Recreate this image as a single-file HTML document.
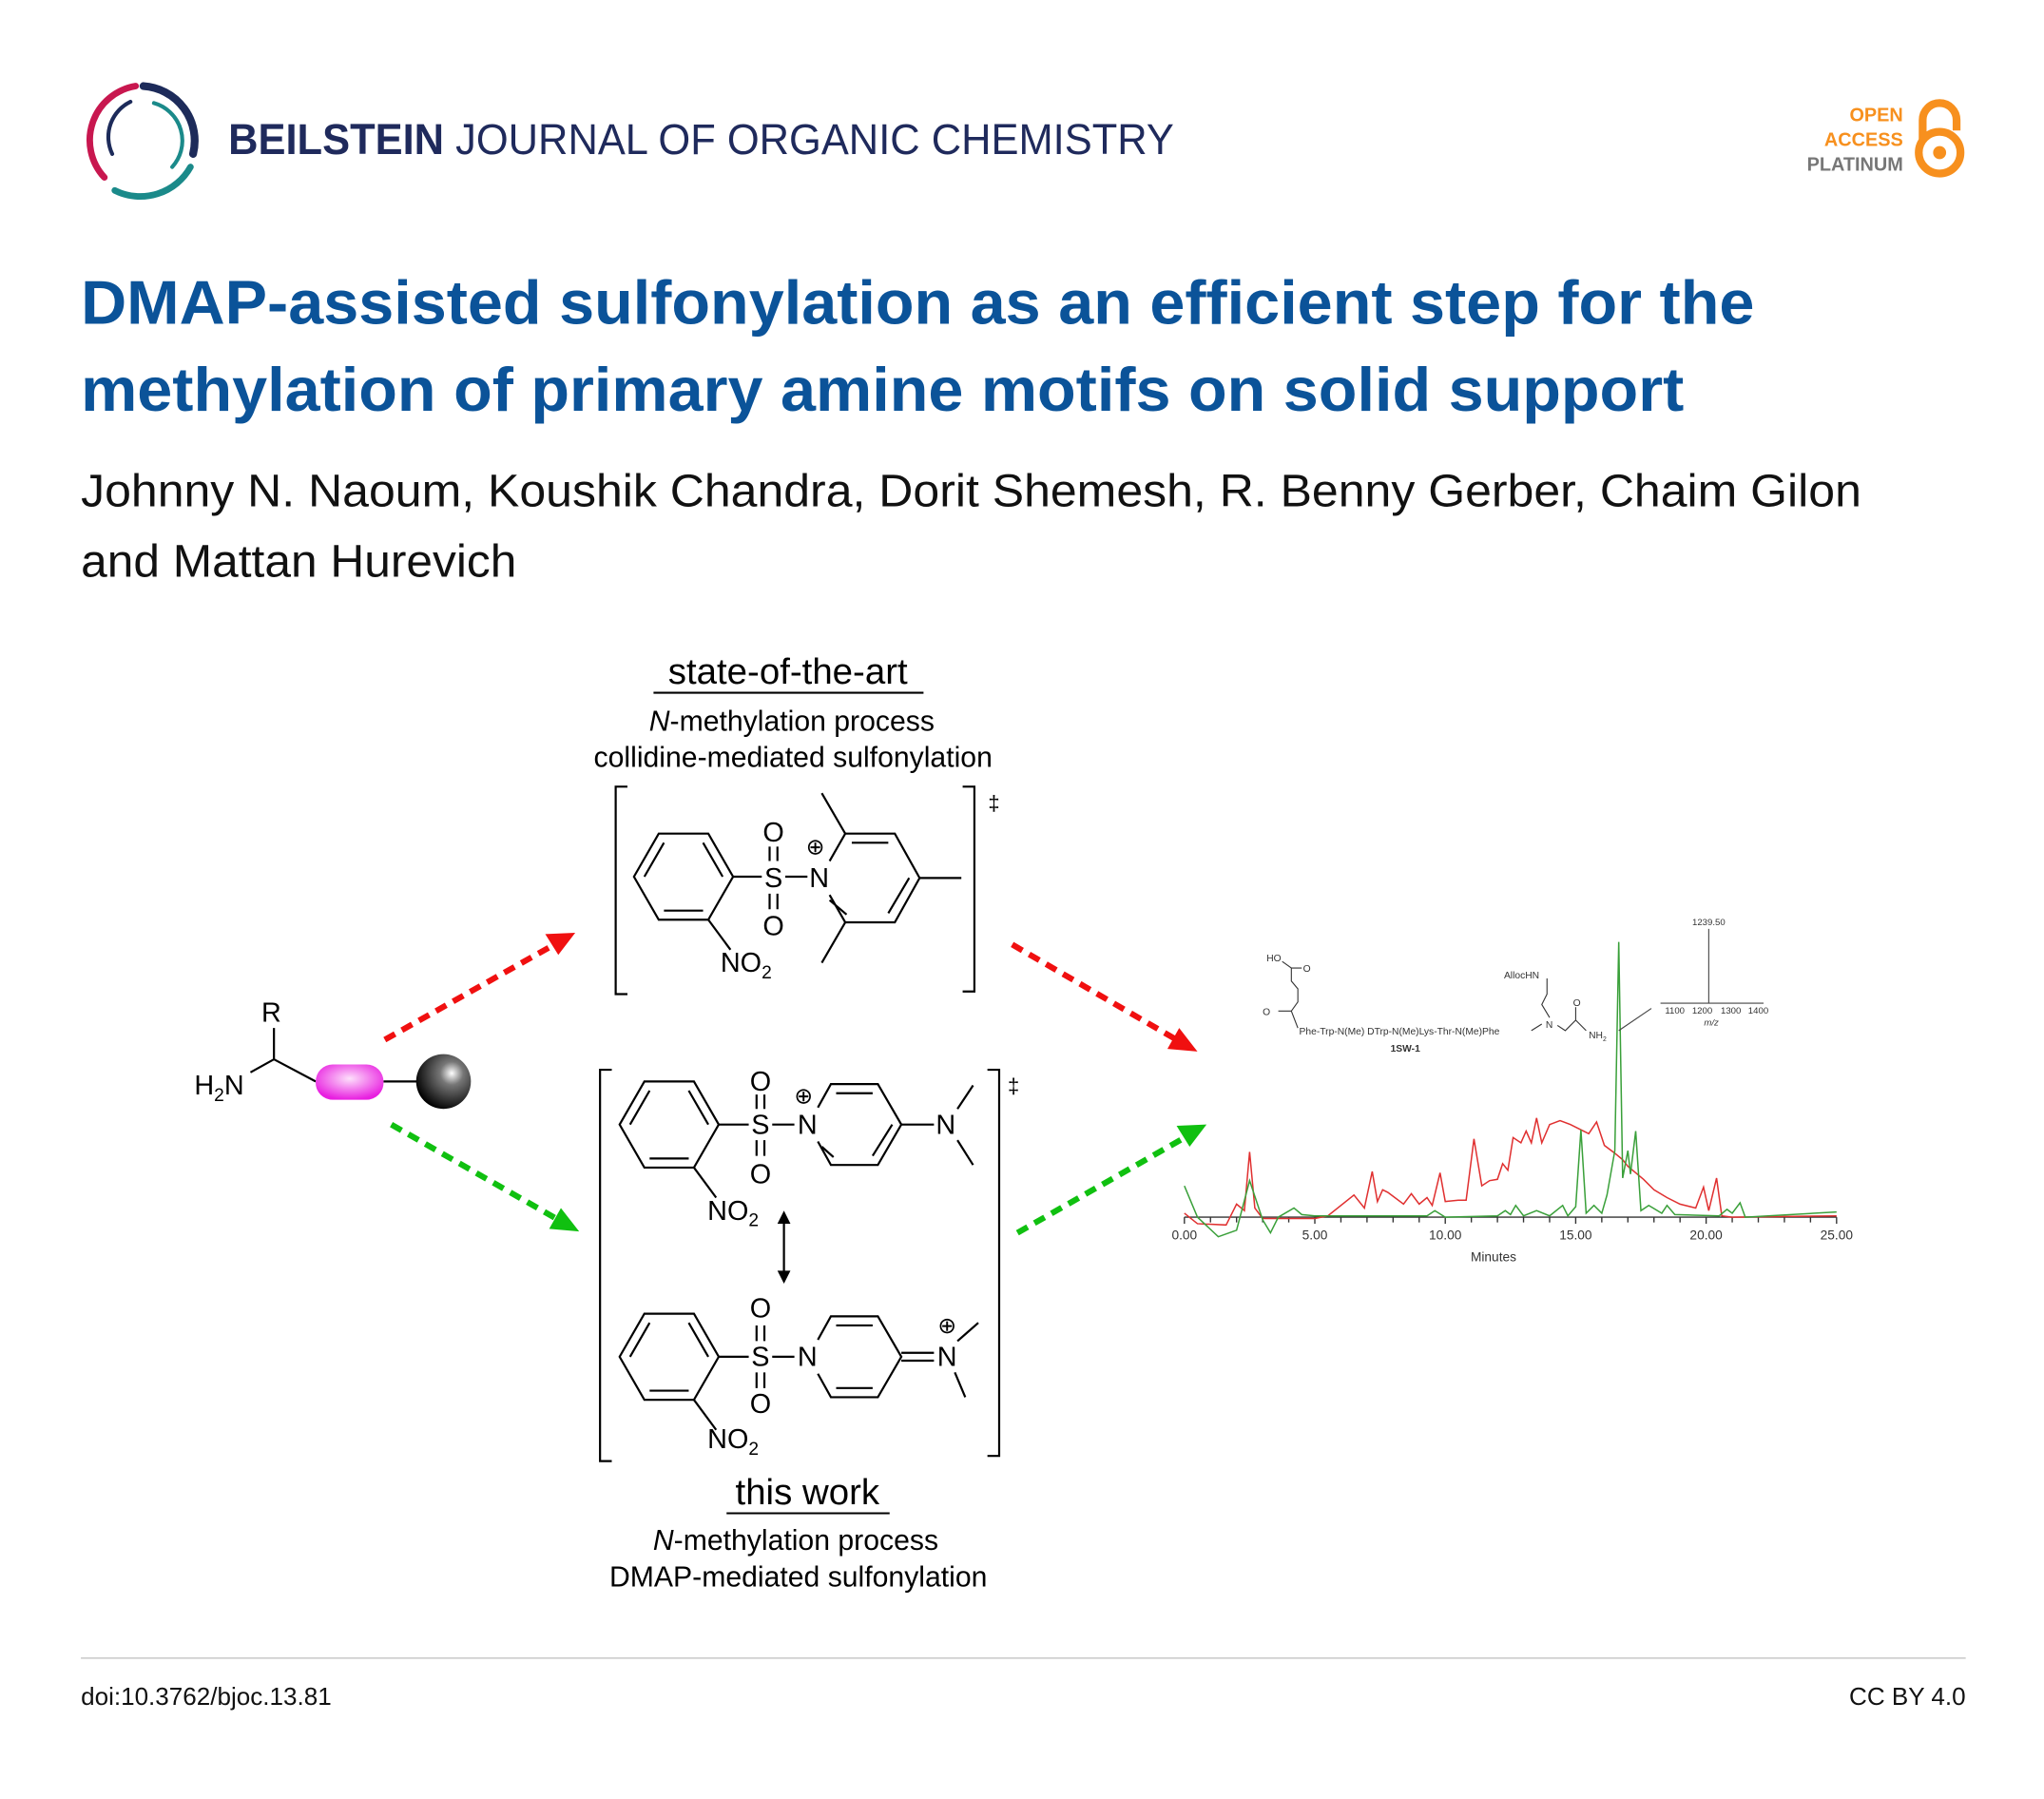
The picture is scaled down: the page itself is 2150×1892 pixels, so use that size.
<!DOCTYPE html>
<html><head><meta charset="utf-8"><style>
html,body{margin:0;padding:0;background:#fff;}
svg{display:block;}
text{font-family:"Liberation Sans",Arial,sans-serif;}
</style></head><body>
<svg width="2150" height="1892" viewBox="0 0 1567 1379" xmlns="http://www.w3.org/2000/svg">
<rect width="1567" height="1379" fill="#fff"/>
<!-- logo -->
<g fill="none" stroke-linecap="round">
<path d="M 110 66 A 42 42 0 0 1 148 118" stroke="#1d2b5a" stroke-width="6"/>
<path d="M 104 66 A 42 42 0 0 0 80 136" stroke="#c8174f" stroke-width="5"/>
<path d="M 146 128 A 44 44 0 0 1 88 146" stroke="#1b8a8a" stroke-width="5"/>
<path d="M 118 79 A 30 30 0 0 1 132 128" stroke="#1b8a8a" stroke-width="3"/>
<path d="M 100 78 A 30 30 0 0 0 86 118" stroke="#1d2b5a" stroke-width="3"/>
</g>
<text x="175" y="118" font-size="33" fill="#1f2a5c" textLength="725" lengthAdjust="spacingAndGlyphs"><tspan font-weight="bold">BEILSTEIN</tspan> <tspan>JOURNAL OF ORGANIC CHEMISTRY</tspan></text>
<!-- OA -->
<text x="1459" y="93" font-size="14.5" font-weight="bold" fill="#f7901e" text-anchor="end">OPEN</text>
<text x="1459" y="112" font-size="14.5" font-weight="bold" fill="#f7901e" text-anchor="end">ACCESS</text>
<text x="1459" y="131" font-size="14.5" font-weight="bold" fill="#777" text-anchor="end">PLATINUM</text>
<path d="M 1474 107 L 1474 92 A 13 13 0 0 1 1500 92 L 1500 100" fill="none" stroke="#f7901e" stroke-width="6"/>
<circle cx="1487" cy="117" r="16" fill="none" stroke="#f7901e" stroke-width="6"/>
<circle cx="1487" cy="117" r="5" fill="#f7901e"/>
<!-- title -->
<text x="62" y="248" font-size="47" font-weight="bold" fill="#0b5399" textLength="1283" lengthAdjust="spacingAndGlyphs">DMAP-assisted sulfonylation as an efficient step for the</text>
<text x="62" y="315" font-size="47" font-weight="bold" fill="#0b5399" textLength="1229" lengthAdjust="spacingAndGlyphs">methylation of primary amine motifs on solid support</text>
<text x="62" y="388" font-size="35" fill="#111" textLength="1365" lengthAdjust="spacingAndGlyphs">Johnny N. Naoum, Koushik Chandra, Dorit Shemesh, R. Benny Gerber, Chaim Gilon</text>
<text x="62" y="442" font-size="35" fill="#111" textLength="334" lengthAdjust="spacingAndGlyphs">and Mattan Hurevich</text>
<!-- footer -->
<line x1="62" y1="1271" x2="1507" y2="1271" stroke="#ccc" stroke-width="1.2"/>
<text x="62" y="1307" font-size="19" fill="#111">doi:10.3762/bjoc.13.81</text>
<text x="1507" y="1307" font-size="19" fill="#111" text-anchor="end">CC BY 4.0</text>

<!-- scheme text -->
<g fill="#000" text-anchor="middle">
<text x="604" y="524" font-size="28">state-of-the-art</text>
<text x="607" y="560" font-size="22"><tspan font-style="italic">N</tspan>-methylation process</text>
<text x="608" y="588" font-size="22">collidine-mediated sulfonylation</text>
<text x="619" y="1153" font-size="28">this work</text>
<text x="610" y="1188" font-size="22"><tspan font-style="italic">N</tspan>-methylation process</text>
<text x="612" y="1216" font-size="22">DMAP-mediated sulfonylation</text>
</g>
<line x1="501" y1="531" x2="708" y2="531" stroke="#000" stroke-width="1.5"/>
<line x1="557" y1="1160" x2="682" y2="1160" stroke="#000" stroke-width="1.5"/>

<g stroke="#000" stroke-width="1.6" fill="none">
<path d="M 481 603 L 472 603 L 472 762 L 481 762"/>
<path d="M 738 603 L 747 603 L 747 760 L 738 760"/>
<path d="M 469 820 L 460 820 L 460 1120 L 469 1120"/>
<path d="M 757 820 L 766 820 L 766 1116 L 757 1116"/>
<path d="M 486 672 L 505 639 L 543 639 L 562 672 L 543 705 L 505 705 Z"/>
<path d="M 494 672 L 509 646 M 539 646 L 554 672 M 539 698 L 509 698"/>
<path d="M 562 672 L 584 672 M 602 672 L 619 672 M 543 705 L 560 728"/>
<path d="M 590 649 L 590 660 M 596 649 L 596 660 M 590 685 L 590 697 M 596 685 L 596 697"/>
<path d="M 636 660 L 648 639 L 686 639 L 705 673 L 686 707 L 648 707 L 636 686"/>
<path d="M 653 646 L 681 646 M 681 700 L 697 673 M 636 690 L 649 701"/>
<path d="M 648 639 L 630 608 M 648 707 L 630 738 M 705 673 L 737 673"/>
<path d="M 475 862 L 494 829 L 532 829 L 551 862 L 532 895 L 494 895 Z"/>
<path d="M 483 862 L 498 836 M 528 836 L 543 862 M 528 888 L 498 888"/>
<path d="M 551 862 L 574 862 M 592 862 L 609 862 M 532 895 L 549 918"/>
<path d="M 580 839 L 580 850 M 586 839 L 586 850 M 580 874 L 580 886 M 586 874 L 586 886"/>
<path d="M 627 849 L 637 831 L 673 831 L 691 862 L 673 893 L 637 893 L 627 875"/>
<path d="M 641 838 L 669 838 M 669 886 L 684 862 M 630 879 L 639 887"/>
<path d="M 691 862 L 716 862 M 734 850 L 746 832 M 734 874 L 746 893"/>
<path d="M 601 934 L 601 978"/>
<path d="M 475 1040 L 494 1007 L 532 1007 L 551 1040 L 532 1073 L 494 1073 Z"/>
<path d="M 483 1040 L 498 1014 M 528 1014 L 543 1040 M 528 1066 L 498 1066"/>
<path d="M 551 1040 L 574 1040 M 592 1040 L 609 1040 M 532 1073 L 549 1096"/>
<path d="M 580 1016 L 580 1028 M 586 1016 L 586 1028 M 580 1052 L 580 1064 M 586 1052 L 586 1064"/>
<path d="M 627 1027 L 637 1009 L 673 1009 L 691 1040 L 673 1071 L 637 1071 L 627 1053"/>
<path d="M 641 1016 L 669 1016 M 641 1064 L 669 1064"/>
<path d="M 691 1037 L 716 1037 M 691 1043 L 716 1043 M 734 1028 L 750 1014 M 732 1052 L 740 1071"/>
<path d="M 192 822 L 210 812 L 242 829 M 210 812 L 210 788 M 294 829 L 320 829"/>
</g>
<path d="M 596 938 L 601 928 L 606 938 Z M 596 974 L 601 984 L 606 974 Z" fill="#000"/>
<g font-size="21" fill="#000" text-anchor="middle">
<text x="593" y="680">S</text><text x="593" y="645">O</text><text x="593" y="717">O</text>
<text x="628" y="680">N</text><text x="625" y="655" font-size="17">⊕</text>
<text x="572" y="745">NO<tspan font-size="14" dy="5">2</tspan></text>
<text x="583" y="869">S</text><text x="583" y="836">O</text><text x="583" y="907">O</text>
<text x="619" y="869">N</text><text x="616" y="846" font-size="17">⊕</text>
<text x="725" y="869">N</text>
<text x="562" y="935">NO<tspan font-size="14" dy="5">2</tspan></text>
<text x="583" y="1047">S</text><text x="583" y="1010">O</text><text x="583" y="1083">O</text>
<text x="619" y="1047">N</text><text x="726" y="1047">N</text><text x="726" y="1022" font-size="17">⊕</text>
<text x="562" y="1110">NO<tspan font-size="14" dy="5">2</tspan></text>
<text x="762" y="621" font-size="16">‡</text><text x="777" y="838" font-size="16">‡</text>
<text x="208" y="783">R</text>
<text x="168" y="839">H<tspan font-size="14" dy="5">2</tspan><tspan dy="-5">N</tspan></text>
</g>
<defs><radialGradient id="pk" cx="0.5" cy="0.4" r="0.6"><stop offset="0" stop-color="#fde0fb"/><stop offset="1" stop-color="#e81fe0"/></radialGradient>
<radialGradient id="bk" cx="0.65" cy="0.35" r="0.7"><stop offset="0" stop-color="#fff"/><stop offset="0.3" stop-color="#777"/><stop offset="1" stop-color="#000"/></radialGradient></defs>
<rect x="242" y="816" width="52" height="27" rx="13" fill="url(#pk)"/>
<circle cx="340" cy="829" r="21" fill="url(#bk)"/>
<g stroke-width="4.5" stroke-dasharray="9 6" fill="none">
<line x1="295" y1="797" x2="425" y2="724" stroke="#f01010"/>
<line x1="776" y1="724" x2="902" y2="797" stroke="#f01010"/>
<line x1="300" y1="862" x2="428" y2="935" stroke="#10c010"/>
<line x1="780" y1="945" x2="910" y2="871" stroke="#10c010"/>
</g>
<path d="M 441 715 L 418 716 L 428 732 Z" fill="#f01010"/>
<path d="M 918 806 L 904 788 L 895 804 Z" fill="#f01010"/>
<path d="M 444 944 L 430 926 L 421 942 Z" fill="#10c010"/>
<path d="M 925 862 L 902 863 L 912 879 Z" fill="#10c010"/>

<!-- chromatogram -->
<g stroke="#333" stroke-width="1" fill="none">
<line x1="908" y1="933" x2="1408" y2="933"/>
<path d="M 908 933 v5 M 928 933 v4 M 948 933 v4 M 968 933 v4 M 988 933 v4 M 1008 933 v5 M 1028 933 v4 M 1048 933 v4 M 1068 933 v4 M 1088 933 v4 M 1108 933 v5 M 1128 933 v4 M 1148 933 v4 M 1168 933 v4 M 1188 933 v4 M 1208 933 v5 M 1228 933 v4 M 1248 933 v4 M 1268 933 v4 M 1288 933 v4 M 1308 933 v5 M 1328 933 v4 M 1348 933 v4 M 1368 933 v4 M 1388 933 v4 M 1408 933 v5"/>
</g>
<g font-size="10" fill="#333" text-anchor="middle">
<text x="908" y="950">0.00</text><text x="1008" y="950">5.00</text><text x="1108" y="950">10.00</text><text x="1208" y="950">15.00</text><text x="1308" y="950">20.00</text><text x="1408" y="950">25.00</text>
<text x="1145" y="967">Minutes</text>
</g>
<polyline fill="none" stroke="#e03030" stroke-width="1.1" points="908,930 918,938 940,939 948,923 954,928 958,883 962,926 968,934 1008,934 1018,932 1038,916 1046,926 1052,898 1056,921 1060,912 1064,914 1068,917 1076,923 1082,915 1088,923 1094,918 1098,924 1104,899 1108,921 1118,920 1124,920 1130,873 1136,909 1142,905 1148,904 1152,892 1156,897 1160,872 1166,876 1170,867 1174,876 1178,857 1182,876 1188,862 1196,859 1204,862 1212,866 1218,869 1224,860 1230,878 1238,884 1244,889 1248,894 1254,899 1260,904 1268,912 1278,918 1288,923 1300,926 1306,910 1310,928 1316,903 1320,932 1328,933 1408,932"/>
<polyline fill="none" stroke="#3aa03a" stroke-width="1.1" points="908,909 918,933 934,948 948,943 958,905 968,935 974,945 980,933 992,926 998,931 1008,932 1094,932 1100,928 1108,933 1148,932 1154,928 1158,931 1162,924 1168,932 1178,928 1188,932 1198,924 1202,932 1208,925 1212,866 1216,930 1222,924 1228,930 1232,916 1238,882 1241,722 1244,903 1248,882 1250,900 1254,867 1258,928 1264,924 1274,930 1278,924 1284,931 1318,932 1324,927 1328,930 1334,922 1338,933 1408,929"/>
<g stroke="#444" stroke-width="0.8" fill="none">
<line x1="1241" y1="790" x2="1266" y2="773"/>
<line x1="1273" y1="769" x2="1352" y2="769"/>
<line x1="1310" y1="769" x2="1310" y2="712"/>
</g>
<g font-size="7" fill="#333" text-anchor="middle">
<text x="1310" y="709">1239.50</text>
<text x="1284" y="777">1100</text><text x="1305" y="777">1200</text><text x="1327" y="777">1300</text><text x="1348" y="777">1400</text>
<text x="1312" y="786" font-style="italic">m/z</text>
</g>
<g stroke="#333" stroke-width="0.8" fill="none">
<path d="M 983 737 L 990 742 L 990 752 L 995 758 L 995 768 L 990 775 L 995 788 M 990 742 L 998 742 M 990 775 L 980 775 M 1186 750 L 1186 762 L 1182 770 L 1188 780 M 1194 786 L 1200 790 L 1208 782 L 1216 790 M 1208 782 L 1208 772 M 1174 790 L 1182 785"/>
</g>
<g font-size="7.5" fill="#333">
<text x="971" y="737">HO</text><text x="999" y="745">O</text><text x="968" y="778">O</text>
<text x="996" y="793">Phe-Trp-N(Me) DTrp-N(Me)Lys-Thr-N(Me)Phe</text>
<text x="1066" y="806" font-weight="bold">1SW-1</text>
<text x="1153" y="750">AllocHN</text>
<text x="1185" y="788">N</text><text x="1206" y="771">O</text>
<text x="1218" y="796">NH<tspan font-size="5" dy="2">2</tspan></text>
</g>
</svg>
</body></html>
